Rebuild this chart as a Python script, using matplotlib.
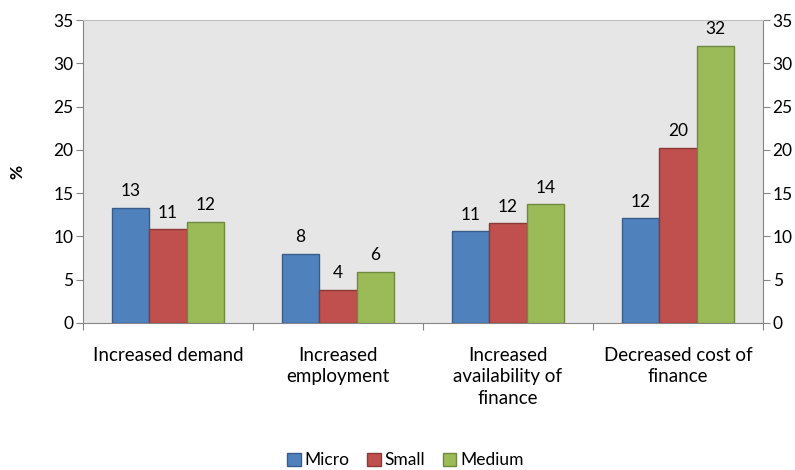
import numpy as np
import matplotlib
matplotlib.use("Agg")
from matplotlib import pyplot as plt

plt.rcParams['font.family'] = ['Lato', 'DejaVu Sans']

categories = ["Increased demand", "Increased\nemployment",
              "Increased\navailability of\nfinance", "Decreased cost of\nfinance"]
micro = [13.3, 8.0, 10.6, 12.1]
small = [10.8, 3.8, 11.5, 20.2]
medium = [11.7, 5.9, 13.7, 32.0]
series_names = ["Micro", "Small", "Medium"]

colors = ["#4F81BD", "#C0504D", "#9BBB59"]
edges = ["#385D8A", "#8C3836", "#71893F"]

fig = plt.figure(figsize=(7.95, 4.7), dpi=100)
ax = fig.add_axes([0.1044, 0.3128, 0.8553, 0.6446])
ax.set_facecolor("#E6E6E6")

x = np.arange(len(categories))
w = 0.22
for i, (vals, name) in enumerate(zip([micro, small, medium], series_names)):
    pos = x + (i - 1) * w
    ax.bar(pos, vals, w, color=colors[i], edgecolor=edges[i],
           linewidth=1, label=name, zorder=3)
    for p, v in zip(pos, vals):
        ax.text(p, v + 1.0, f"{v:.0f}", ha="center", va="bottom", fontsize=12.5)

ax.set_xlim(-0.5, len(categories) - 0.5)
ax.set_ylim(0, 35)
ax.set_yticks(range(0, 36, 5))
ax.set_xticks(np.arange(-0.5, len(categories), 1.0))
ax.set_xticklabels([])
ax.tick_params(axis="x", length=5, color="#868686")
ax.tick_params(axis="y", length=5, color="#868686", labelsize=12.5,
               right=True, labelright=True, pad=2)
for s in ax.spines.values():
    s.set_color("#868686")
ax.spines["top"].set_color("#BFBFBF")

for i, c in enumerate(categories):
    ax.text(i, -2.8, c, ha="center", va="top", fontsize=13.5,
            linespacing=1.3)

ax.set_ylabel("%", fontsize=12.5, fontweight="bold", labelpad=20)

fig.legend(loc="lower center", bbox_to_anchor=(0.51, -0.03), ncol=3,
           frameon=False, fontsize=12.5, handlelength=0.8,
           handleheight=0.8, handletextpad=0.2, columnspacing=1.0)

fig.savefig("out.png", dpi=100)
